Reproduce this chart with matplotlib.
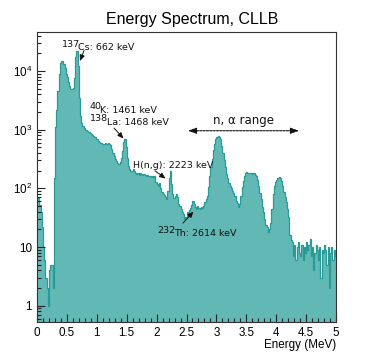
import numpy as np
import matplotlib
matplotlib.use("Agg")
import matplotlib.pyplot as plt
from matplotlib.ticker import FixedLocator, FixedFormatter, LogLocator, MultipleLocator, NullFormatter

plt.rcParams['font.family'] = 'Liberation Sans'
plt.rcParams['mathtext.fontset'] = 'custom'
plt.rcParams['mathtext.rm'] = 'Liberation Sans'

# histogram: 0.02 MeV bins from 0 to 5 MeV
bin_width = 0.02
counts = [
    70, 68, 53, 39, 22, 10, 6, 3, 2, 1,                              # 0.0
    4, 5, 5, 2, 150, 1100, 2200, 4500, 9000, 13500,                  # 0.2
    14800, 14500, 13000, 11000, 9000, 7800, 6500, 5500, 5000, 4900,  # 0.4
    5200, 7500, 17000, 22000, 12000, 3500, 1700, 1300, 1150, 1050,   # 0.6
    1000, 980, 950, 920, 880, 850, 820, 780, 740, 700,               # 0.8
    680, 650, 620, 600, 580, 560, 580, 590, 560, 590,                # 1.0
    570, 540, 470, 400, 360, 320, 290, 270, 265, 280,                # 1.2
    330, 430, 620, 690, 500, 330, 240, 210, 195, 200,                # 1.4
    210, 195, 185, 175, 180, 170, 185, 175, 170, 175,                # 1.6
    168, 165, 170, 160, 165, 158, 160, 155, 160, 130,                # 1.8
    120, 110, 125, 100, 88, 80, 78, 72, 65, 90,                      # 2.0
    150, 195, 120, 80, 68, 75, 80, 72, 55, 50,                       # 2.2
    45, 40, 36, 30, 33, 39, 36, 42, 47, 52,                          # 2.4
    60, 55, 48, 45, 50, 47, 44, 48, 47, 50,                          # 2.6
    58, 65, 75, 105, 160, 230, 320, 450, 580, 700,                   # 2.8
    750, 780, 760, 680, 520, 400, 300, 230, 175, 150,                # 3.0
    125, 110, 100, 90, 85, 75, 62, 57, 48, 55,                       # 3.2
    75, 105, 135, 165, 185, 188, 180, 185, 180, 182,                 # 3.4
    178, 180, 170, 160, 140, 110, 85, 65, 48, 40,                    # 3.6
    30, 24, 22, 18, 20, 26, 45, 80, 110, 130,                        # 3.8
    140, 150, 155, 150, 135, 110, 88, 70, 58, 45,                    # 4.0
    33, 16, 13, 12, 7, 11, 6, 10, 12, 8,                             # 4.2
    7, 11, 6, 10, 8, 12, 9, 11, 14, 7,                               # 4.4
    10, 4, 8, 11, 9, 6, 10, 3, 9, 8,                                 # 4.6
    11, 9, 5, 10, 2, 8, 10, 6, 9, 7,                                 # 4.8
]
edges = np.arange(len(counts) + 1) * bin_width

y_ticks = [1, 10, 100, 1000, 10000]
y_labels = ['1', '10', r'$10^{2}$', r'$10^{3}$', r'$10^{4}$']

fill_color = '#62b8b5'
line_color = '#2a9a97'
W, H = 374, 359

fig = plt.figure(figsize=(W / 100, H / 100), dpi=100)
ax = fig.add_axes([37 / W, 37 / H, 299 / W, 290 / H])

ax.stairs(counts, edges, baseline=0.1, fill=True, color=fill_color)
ax.stairs(counts, edges, baseline=None, color=line_color, lw=0.9)

ax.set_yscale('log')
ax.set_xlim(0, 5)
ax.set_ylim(0.53, 46000)

# ROOT-like axes: ticks inside, only left and bottom
ax.xaxis.set_major_locator(MultipleLocator(0.5))
ax.xaxis.set_minor_locator(MultipleLocator(0.1))
ax.xaxis.set_major_formatter(plt.FuncFormatter(lambda v, p: f'{v:g}'))
ax.yaxis.set_major_locator(FixedLocator(y_ticks))
ax.yaxis.set_major_formatter(FixedFormatter(y_labels))
ax.yaxis.set_minor_locator(LogLocator(base=10, subs=np.arange(2, 10)))
ax.yaxis.set_minor_formatter(NullFormatter())
ax.tick_params(which='both', direction='in', top=False, right=False,
               labelsize=8.4, color='#222222', width=0.8)
ax.tick_params(which='major', length=5.8)
ax.tick_params(which='minor', length=3.2)
ax.tick_params(axis='x', pad=3.4)
ax.tick_params(axis='y', pad=3.5)
for s in ax.spines.values():
    s.set_linewidth(0.8)
    s.set_color('#333333')

ax.set_xlabel('Energy (MeV)', loc='right', fontsize=8.4, labelpad=0.5)
fig.text(192.5 / W, 1 - 24 / H, 'Energy Spectrum, CLLB', ha='center',
         va='baseline', fontsize=11.5)

# annotations
afont = dict(family='DejaVu Sans', fontsize=6.8, va='top', ha='left', color='#111111')
arr = dict(arrowstyle='-|>,head_length=0.35,head_width=0.15', color='#111111', lw=0.7,
           shrinkA=0, shrinkB=0)

ax.text(0.413, 33600, '137', **afont)
ax.text(0.681, 29900, 'Cs: 662 keV', **afont)
ax.annotate('', xy=(0.719, 14750), xytext=(0.786, 22250), arrowprops=arr)

ax.text(0.875, 2900, '40', **afont)
ax.text(1.054, 2560, 'K: 1461 keV', **afont)
ax.text(0.886, 1820, '138', **afont)
ax.text(1.166, 1560, 'La: 1468 keV', **afont)
ax.annotate('', xy=(1.446, 705), xytext=(1.288, 1065), arrowprops=arr)

ax.text(1.610, 292, 'H(n,g): 2223 keV', **afont)
ax.annotate('', xy=(2.149, 147), xytext=(1.973, 199.5), arrowprops=arr)

ax.text(2.012, 22.8, '232', **afont)
ax.text(2.291, 20.0, 'Th: 2614 keV', **afont)
ax.annotate('', xy=(2.617, 40.3), xytext=(2.441, 25.6), arrowprops=arr)

ax.annotate('', xy=(4.381, 958), xytext=(2.525, 958),
            arrowprops=dict(arrowstyle='<|-|>,head_length=0.5,head_width=0.18',
                            color='#111111', lw=0.8, ls=(0, (2, 1)),
                            shrinkA=0, shrinkB=0))
ax.text(3.45, 1245, 'n, \u03b1 range', family='DejaVu Sans', fontsize=8.5,
        ha='center', va='baseline', color='#111111')

fig.savefig('out.png', dpi=100)
